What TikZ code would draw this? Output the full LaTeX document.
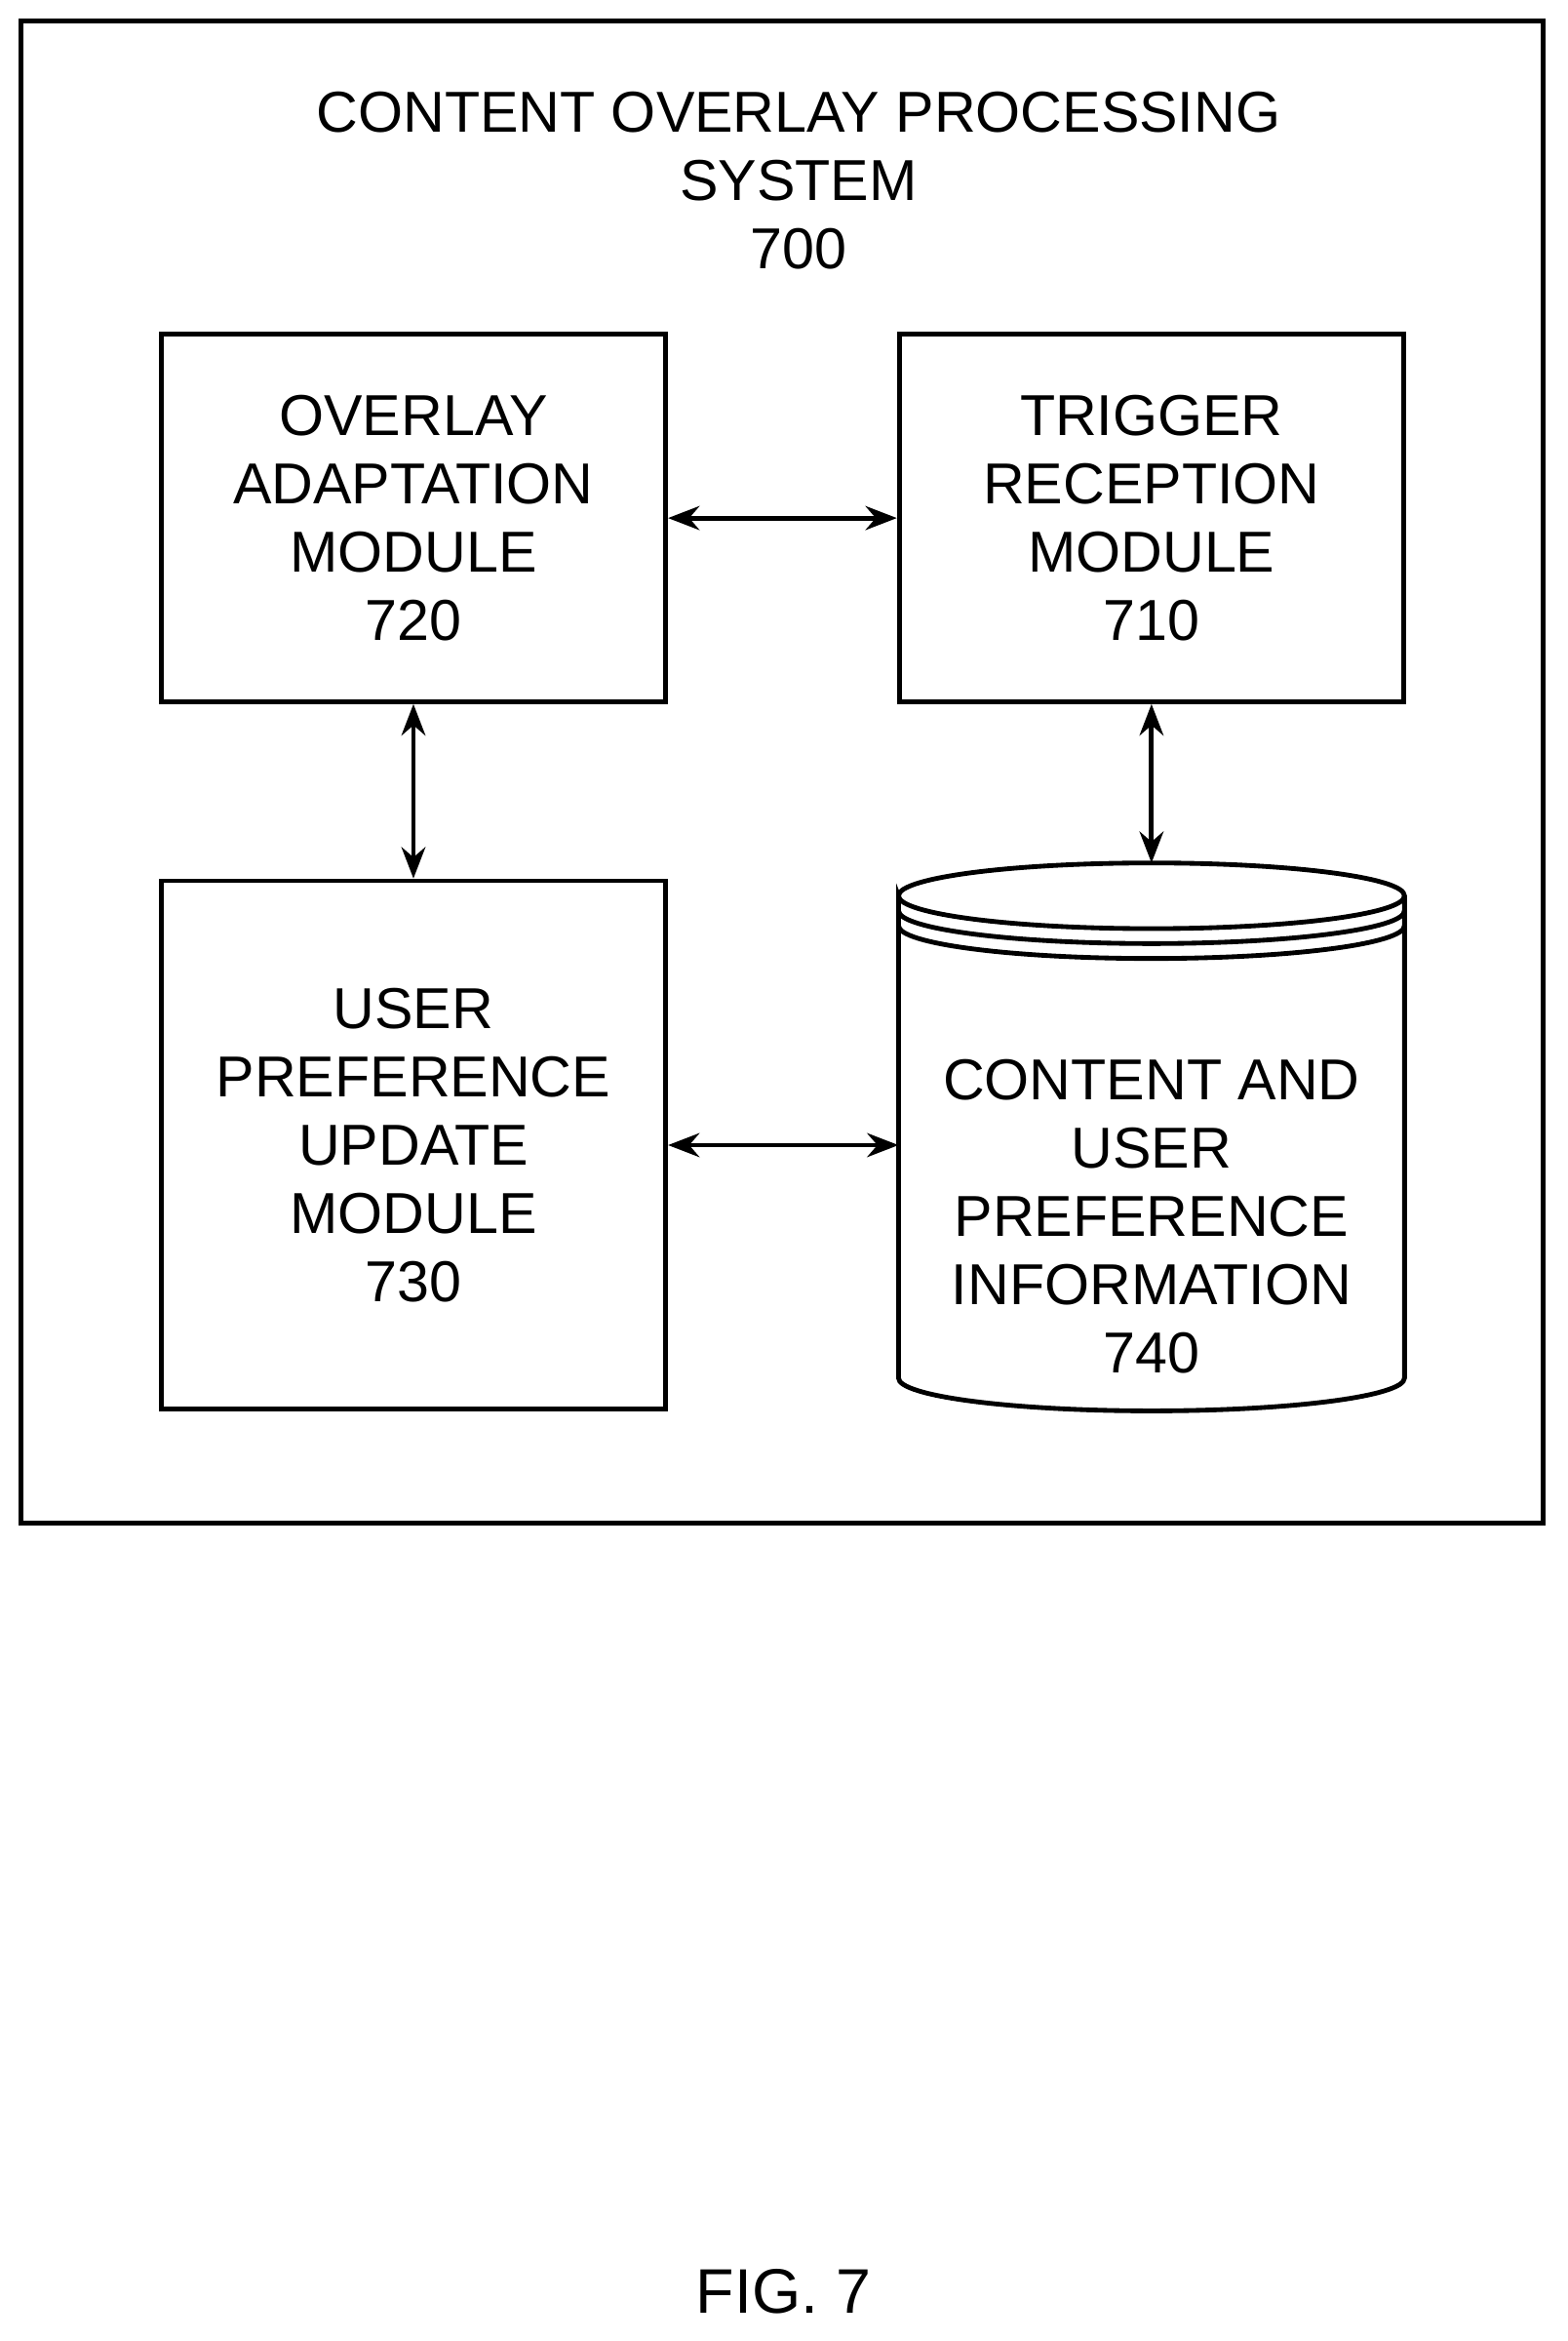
\documentclass[tikz,border=0pt]{standalone}
\usepackage{fontspec}
\setmainfont{Liberation Sans}
\usetikzlibrary{arrows.meta}
\tikzset{
  module/.style={draw, line width=1.8pt, minimum width=6.76cm, align=center,
    font=\fontsize{22}{26}\selectfont},
  link/.style={{Stealth[length=0.42cm,width=0.32cm]}-{Stealth[length=0.42cm,width=0.32cm]}, line width=1.8pt}
}
\begin{document}
\begin{tikzpicture}
        \useasboundingbox (0,0) rectangle (21,-31.36);
        \draw[line width=1.8pt] (0.28,-0.28) rectangle (20.68,-20.4);
        \node[align=center, font=\fontsize{22}{26}\selectfont] (sys) at (10.7,-2.42)
          {CONTENT OVERLAY PROCESSING\\SYSTEM\\700};

        \node[module, minimum height=4.92cm] (oam) at (5.54,-6.94)
          {OVERLAY\\ADAPTATION\\MODULE\\720};
        \node[module, minimum height=4.92cm] (trm) at (15.43,-6.94)
          {TRIGGER\\RECEPTION\\MODULE\\710};
        \node[module, minimum height=7.08cm] (upm) at (5.54,-15.34)
          {USER\\PREFERENCE\\UPDATE\\MODULE\\730};

        % database cylinder
        \draw[line width=1.8pt] (12.04,-12.0) arc[start angle=180, end angle=-180, x radius=3.39, y radius=0.44]
          -- (12.04,-18.46) arc[start angle=180, end angle=360, x radius=3.39, y radius=0.44] -- (18.82,-12.0);
        \draw[line width=1.8pt] (12.04,-12.2) arc[start angle=180, end angle=360, x radius=3.39, y radius=0.44];
        \draw[line width=1.8pt] (12.04,-12.4) arc[start angle=180, end angle=360, x radius=3.39, y radius=0.44];
        \node[align=center, font=\fontsize{22}{26}\selectfont] (info) at (15.43,-16.3)
          {CONTENT AND\\USER\\PREFERENCE\\INFORMATION\\740};
        \coordinate (dbtop) at (15.43,-11.56);
        \coordinate (dbleft) at (12.04,-15.34);

        \draw[link] (oam) -- (trm);
        \draw[link] (oam) -- (upm);
        \draw[link] (trm) -- (dbtop);
        \draw[link] (upm.east) -- (dbleft);

        \node[font=\fontsize{24}{28}\selectfont] (fig) at (10.5,-30.7) {FIG. 7};
\end{tikzpicture}
\end{document}
